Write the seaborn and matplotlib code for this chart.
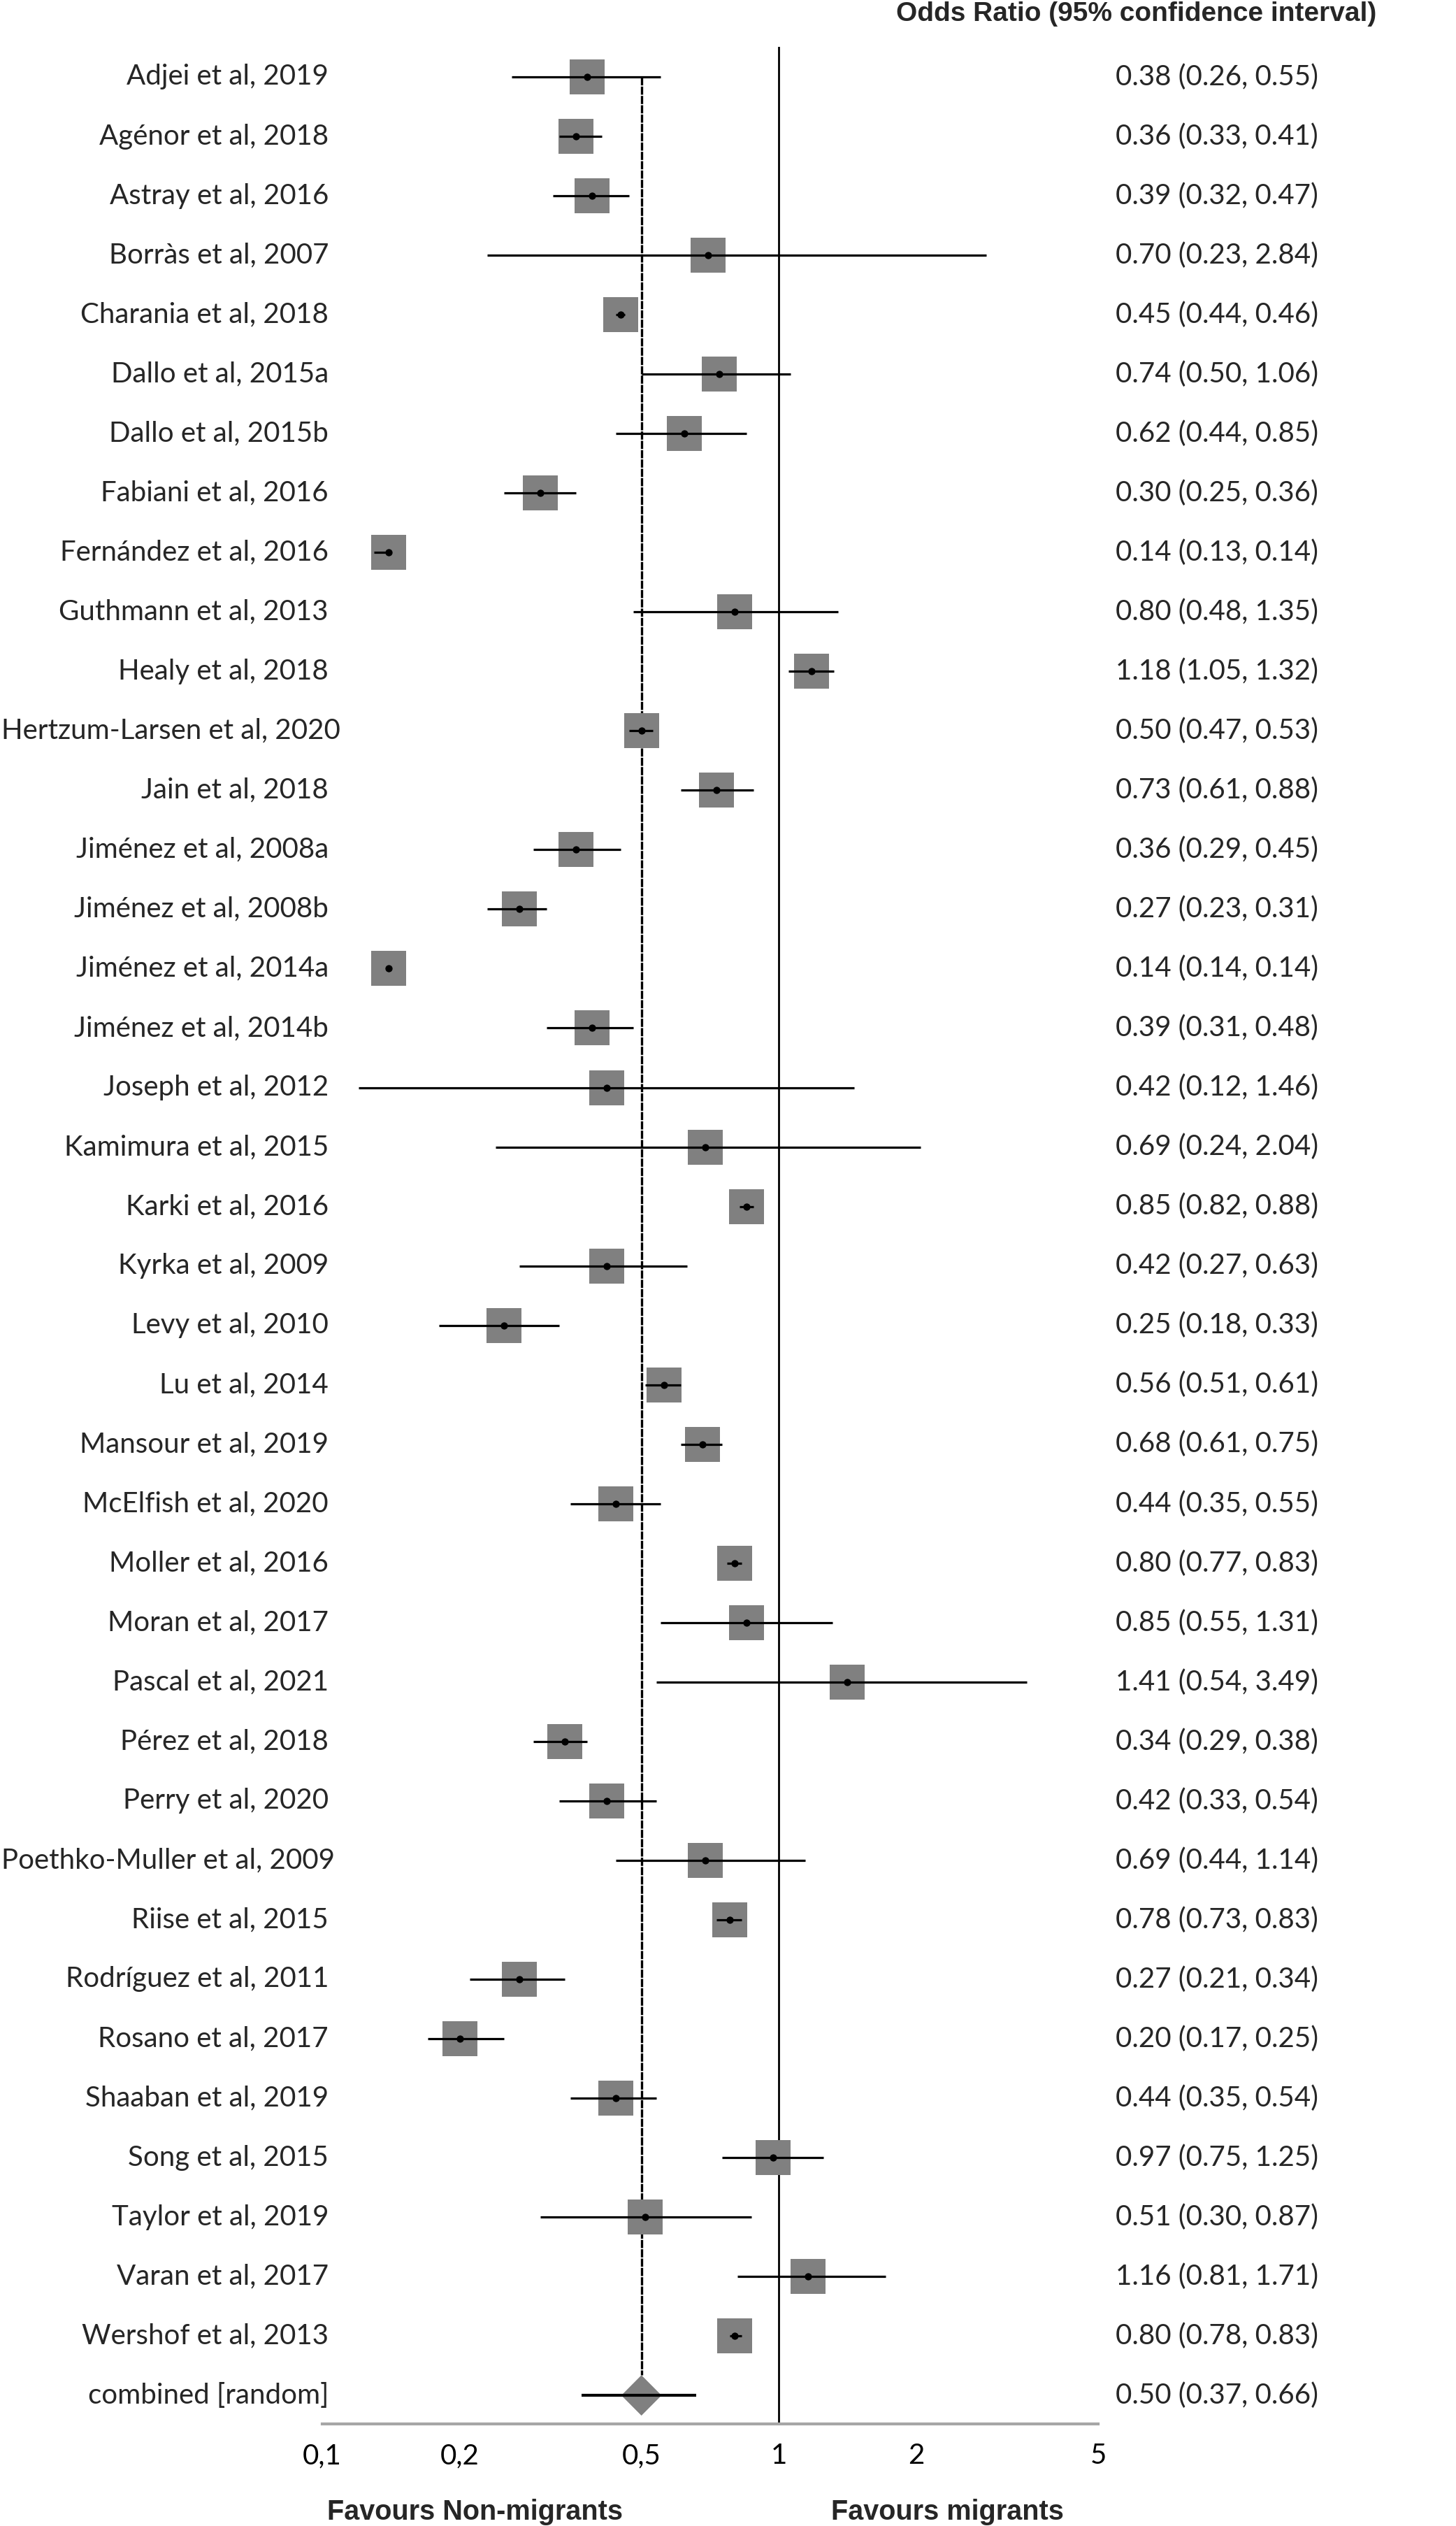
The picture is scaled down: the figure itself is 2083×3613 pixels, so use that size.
import matplotlib
matplotlib.use('Agg')
import matplotlib.pyplot as plt
import matplotlib.transforms as mtransforms
from matplotlib.ticker import NullLocator
import numpy as np
import pandas as pd
import seaborn as sns

# ---------------- data ----------------
studies = [
    "Adjei et al, 2019", "Agénor et al, 2018", "Astray et al, 2016", "Borràs et al, 2007",
    "Charania et al, 2018", "Dallo et al, 2015a", "Dallo et al, 2015b", "Fabiani et al, 2016",
    "Fernández et al, 2016", "Guthmann et al, 2013", "Healy et al, 2018",
    "Hertzum-Larsen et al, 2020", "Jain et al, 2018", "Jiménez et al, 2008a",
    "Jiménez et al, 2008b", "Jiménez et al, 2014a", "Jiménez et al, 2014b",
    "Joseph et al, 2012", "Kamimura et al, 2015", "Karki et al, 2016", "Kyrka et al, 2009",
    "Levy et al, 2010", "Lu et al, 2014", "Mansour et al, 2019", "McElfish et al, 2020",
    "Moller et al, 2016", "Moran et al, 2017", "Pascal et al, 2021", "Pérez et al, 2018",
    "Perry et al, 2020", "Poethko-Muller et al, 2009", "Riise et al, 2015",
    "Rodríguez et al, 2011", "Rosano et al, 2017", "Shaaban et al, 2019", "Song et al, 2015",
    "Taylor et al, 2019", "Varan et al, 2017", "Wershof et al, 2013",
]
odds_ratio = [0.38, 0.36, 0.39, 0.70, 0.45, 0.74, 0.62, 0.30, 0.14, 0.80, 1.18, 0.50, 0.73,
              0.36, 0.27, 0.14, 0.39, 0.42, 0.69, 0.85, 0.42, 0.25, 0.56, 0.68, 0.44, 0.80,
              0.85, 1.41, 0.34, 0.42, 0.69, 0.78, 0.27, 0.20, 0.44, 0.97, 0.51, 1.16, 0.80]
ci_low = [0.26, 0.33, 0.32, 0.23, 0.44, 0.50, 0.44, 0.25, 0.13, 0.48, 1.05, 0.47, 0.61,
          0.29, 0.23, 0.14, 0.31, 0.12, 0.24, 0.82, 0.27, 0.18, 0.51, 0.61, 0.35, 0.77,
          0.55, 0.54, 0.29, 0.33, 0.44, 0.73, 0.21, 0.17, 0.35, 0.75, 0.30, 0.81, 0.78]
ci_high = [0.55, 0.41, 0.47, 2.84, 0.46, 1.06, 0.85, 0.36, 0.14, 1.35, 1.32, 0.53, 0.88,
           0.45, 0.31, 0.14, 0.48, 1.46, 2.04, 0.88, 0.63, 0.33, 0.61, 0.75, 0.55, 0.83,
           1.31, 3.49, 0.38, 0.54, 1.14, 0.83, 0.34, 0.25, 0.54, 1.25, 0.87, 1.71, 0.83]

pooled_label = "combined [random]"
pooled_or = 0.50
pooled_low = 0.37
pooled_high = 0.66

tick_values = [0.1, 0.2, 0.5, 1, 2, 5]
tick_labels = ["0,1", "0,2", "0,5", "1", "2", "5"]
header_text = "Odds Ratio (95% confidence interval)"
left_note = "Favours Non-migrants"
right_note = "Favours migrants"

# ---------------- style ----------------
sns.set_style('white')
plt.rcParams['font.family'] = ['Lato', 'DejaVu Sans']

W, H = 2083, 3613
fig = plt.figure(figsize=(W / 100, H / 100), dpi=100)

ax_left, ax_right = 461, 1571           # pixel x of 0.1 and 5
ax_top, ax_bottom = 67, 3467            # pixel y (from top)
row0, row_pitch = 110, 85.03            # pixel y of first row, spacing

ax = fig.add_axes([ax_left / W, (H - ax_bottom) / H,
                   (ax_right - ax_left) / W, (ax_bottom - ax_top) / H])

df = pd.DataFrame({"study": studies, "or": odds_ratio, "lo": ci_low, "hi": ci_high})
df["row"] = np.arange(len(df))
pooled_row = len(df)

ax.set_xscale('log')
ax.set_xlim(0.1, 5)
ax.set_ylim((ax_bottom - row0) / row_pitch, -(row0 - ax_top) / row_pitch)

# reference lines
ax.axvline(1, color='black', lw=2.0, zorder=1)
ax.vlines(pooled_or, 0, pooled_row - 0.34, colors='black', lw=2.4,
          linestyles=(0, (3.5, 0.5)), zorder=1)

# squares
sns.scatterplot(data=df, x="or", y="row", marker='s', s=1250, color='#808080',
                linewidth=0, ax=ax, zorder=2, legend=False)
# CI lines
ax.hlines(df["row"], df["lo"], df["hi"], colors='black', lw=2.3, zorder=3)
# centre dots
sns.scatterplot(data=df, x="or", y="row", marker='o', s=55, color='black',
                linewidth=0, ax=ax, zorder=4, legend=False)

# pooled diamond
half_w = 10 ** 0.044
ax.fill([pooled_or / half_w, pooled_or, pooled_or * half_w, pooled_or],
        [pooled_row, pooled_row - 0.34, pooled_row, pooled_row + 0.34],
        color='#808080', lw=0, zorder=2)
ax.hlines([pooled_row], [pooled_low], [pooled_high], colors='black', lw=3.0, zorder=3)

# axes styling
for side in ['top', 'left', 'right']:
    ax.spines[side].set_visible(False)
ax.spines['bottom'].set_color('#a6a6a6')
ax.spines['bottom'].set_linewidth(3.0)
ax.set_xticks(tick_values)
ax.set_xticklabels(tick_labels)
ax.xaxis.set_minor_locator(NullLocator())
ax.set_yticks([])
ax.tick_params(axis='x', direction='out', length=9.5, width=2.0, color='#a6a6a6',
               labelsize=29, labelcolor='black', pad=10)
ax.set_xlabel('')
ax.set_ylabel('')
ax.grid(False)

# texts
trans_left = mtransforms.blended_transform_factory(fig.transFigure, ax.transData)
label_x = 470 / W
value_x = 1596 / W
all_labels = list(df["study"]) + [pooled_label]
all_or = list(df["or"]) + [pooled_or]
all_lo = list(df["lo"]) + [pooled_low]
all_hi = list(df["hi"]) + [pooled_high]
label_artists = []
for i, (lab, o, l, h) in enumerate(zip(all_labels, all_or, all_lo, all_hi)):
    t = ax.text(label_x, i, lab, transform=trans_left, ha='right', va='center',
                fontsize=29, clip_on=False)
    label_artists.append(t)
    ax.text(value_x, i, f"{o:.2f} ({l:.2f}, {h:.2f})", transform=trans_left,
            ha='left', va='center', fontsize=29, clip_on=False)

# long labels overflow to the right instead of being cut at the left edge
fig.canvas.draw()
renderer = fig.canvas.get_renderer()
for t in label_artists:
    bb = t.get_window_extent(renderer)
    if bb.x0 < 2:
        t.set_ha('left')
        t.set_x(2 / W)

fig.text(1282 / W, 1 - 20 / H, header_text, ha='left', va='center', fontsize=28,
         fontweight='bold', family=['Liberation Sans', 'DejaVu Sans'])
fig.text(680 / W, 1 - 3593 / H, left_note, ha='center', va='center', fontsize=28.5,
         fontweight='bold', family=['Liberation Sans', 'DejaVu Sans'])
fig.text(1355 / W, 1 - 3593 / H, right_note, ha='center', va='center', fontsize=28.5,
         fontweight='bold', family=['Liberation Sans', 'DejaVu Sans'])

fig.savefig('out.png', dpi=100, facecolor='white')
